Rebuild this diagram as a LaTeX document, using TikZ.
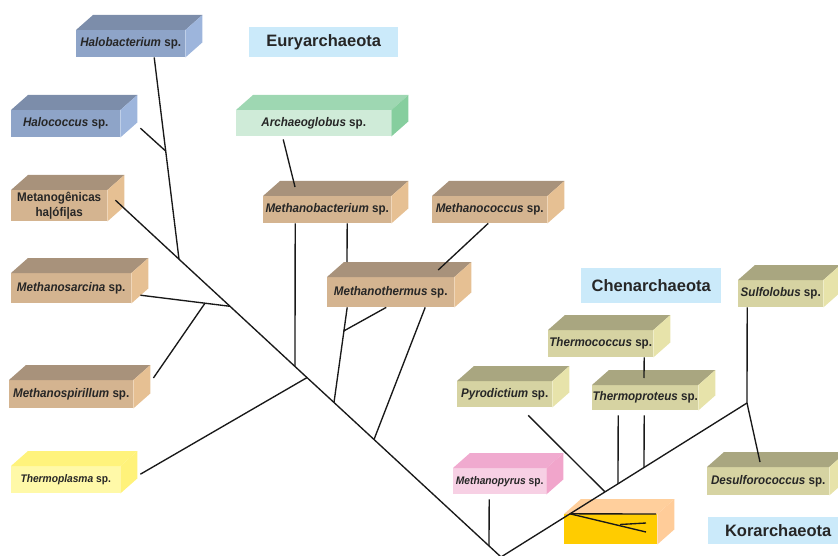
\documentclass[tikz,border=0pt]{standalone}
\usepackage{fontspec}
\setmainfont{Liberation Sans}
\newfontfamily\spfont{Liberation Sans}[FakeStretch=0.93]
\definecolor{bluef}{HTML}{8EA4C8}\definecolor{bluet}{HTML}{7C8DAA}\definecolor{bluer}{HTML}{9DB5DC}
\definecolor{tanf}{HTML}{D4B490}\definecolor{tant}{HTML}{A8927B}\definecolor{tanr}{HTML}{E6C093}
\definecolor{olvf}{HTML}{D6D3A2}\definecolor{olvt}{HTML}{A9A680}\definecolor{olvr}{HTML}{E7E3AA}
\definecolor{grnf}{HTML}{CFEBD8}\definecolor{grnt}{HTML}{9ED7B2}\definecolor{grnr}{HTML}{86CE9E}
\definecolor{pnkf}{HTML}{F7D0E4}\definecolor{pnkt}{HTML}{F0AACF}\definecolor{pnkr}{HTML}{F1A5CB}
\definecolor{yelf}{HTML}{FFF9A8}\definecolor{yelt}{HTML}{FFF37C}\definecolor{yelr}{HTML}{FFF27A}
\definecolor{goldf}{HTML}{FFCC00}\definecolor{goldt}{HTML}{FFCF9C}\definecolor{goldr}{HTML}{FFCC99}
\definecolor{grpblue}{HTML}{CBEAFA}
\newcommand{\spec}[1]{\textit{#1} sp.}
\newcommand{\solid}[3]{%
  \fill[#2] (#1.north west) -- ++(17,-15) -- ([shift={(17,-15)}]#1.north east) -- (#1.north east) -- cycle;
  \fill[#3] (#1.north east) -- ++(17,-15) -- ([shift={(17,-15)}]#1.south east) -- (#1.south east) -- cycle;}
\begin{document}
\begin{tikzpicture}[x=1pt, y=-1pt,
  box/.style={rectangle, anchor=north west, inner sep=0pt, align=center, text=black!85,
    font=\spfont\fontsize{12.5}{15}\selectfont\bfseries},
  small/.style={font=\spfont\fontsize{11}{13}\selectfont\bfseries},
  group/.style={anchor=north west, inner sep=0pt, fill=grpblue, text=black!85,
    font=\fontsize{16.5}{18}\selectfont\bfseries},
  branch/.style={draw=black!90, line width=1.35pt}]
\useasboundingbox (0,0) rectangle (838,556);

\node[group, minimum width=149pt, minimum height=30pt] (eury) at (249,27) {Euryarchaeota};
\node[group, minimum width=140pt, minimum height=35pt] (chen) at (581,268) {Chenarchaeota};
\node[group, minimum width=140pt, minimum height=27pt] (kora) at (708,517) {Korarchaeota};

\node[box, fill=bluef, minimum width=109pt, minimum height=27pt] (halobact) at (76,30) {\spec{Halobacterium}};
\node[box, fill=bluef, minimum width=109pt, minimum height=27pt] (halococ) at (11,110) {\spec{Halococcus}};
\node[box, fill=tanf, minimum width=96pt, minimum height=31pt] (metano) at (11,190) {Metanogênicas\\ha|ófi|as};
\node[box, fill=tanf, minimum width=120pt, minimum height=30pt] (sarc) at (11,273) {\spec{Methanosarcina}};
\node[box, fill=tanf, minimum width=124pt, minimum height=28pt] (spir) at (9,380) {\spec{Methanospirillum}};
\node[box, small, fill=yelf, minimum width=109pt, minimum height=27pt] (tpl) at (11,466) {\spec{Thermoplasma}};
\node[box, fill=grnf, minimum width=155pt, minimum height=26pt] (arch) at (236,110) {\spec{Archaeoglobus}};
\node[box, fill=tanf, minimum width=128pt, minimum height=27pt] (mbac) at (263,196) {\spec{Methanobacterium}};
\node[box, fill=tanf, minimum width=115pt, minimum height=27pt] (mcoc) at (432,196) {\spec{Methanococcus}};
\node[box, fill=tanf, minimum width=127pt, minimum height=30pt] (mth) at (327,277) {\spec{Methanothermus}};
\node[box, fill=olvf, minimum width=105pt, minimum height=27pt] (tcoc) at (548,330) {\spec{Thermococcus}};
\node[box, fill=olvf, minimum width=95pt, minimum height=26pt] (pyro) at (457,381) {\spec{Pyrodictium}};
\node[box, fill=olvf, minimum width=106pt, minimum height=25pt] (tprot) at (592,385) {\spec{Thermoproteus}};
\node[box, fill=olvf, minimum width=85pt, minimum height=27pt] (sulf) at (738,280) {\spec{Sulfolobus}};
\node[box, fill=olvf, minimum width=122pt, minimum height=28pt] (desulf) at (707,467) {\spec{Desulforococcus}};
\node[box, small, fill=pnkf, minimum width=93pt, minimum height=26pt] (mpyr) at (453,468) {\spec{Methanopyrus}};
\node[box, fill=goldf, minimum width=93pt, minimum height=30pt] (korbox) at (564,514) {};

\solid{halobact}{bluet}{bluer}
\solid{halococ}{bluet}{bluer}
\solid{metano}{tant}{tanr}
\solid{sarc}{tant}{tanr}
\solid{spir}{tant}{tanr}
\solid{tpl}{yelt}{yelr}
\solid{arch}{grnt}{grnr}
\solid{mbac}{tant}{tanr}
\solid{mcoc}{tant}{tanr}
\solid{mth}{tant}{tanr}
\solid{tcoc}{olvt}{olvr}
\solid{pyro}{olvt}{olvr}
\solid{tprot}{olvt}{olvr}
\solid{sulf}{olvt}{olvr}
\solid{desulf}{olvt}{olvr}
\solid{mpyr}{pnkt}{pnkr}
\solid{korbox}{goldt}{goldr}

\coordinate (root) at (501,557);
\coordinate (jhalo) at (179,259.2);
\coordinate (jhc) at (165.6,151);
\coordinate (jsarc) at (230,306.3);
\coordinate (jspir) at (205,303.2);
\coordinate (jmbac) at (295,366.5);
\coordinate (jtpl) at (307,377.6);
\coordinate (jmth1) at (334,402.5);
\coordinate (jmsm) at (343.7,331);
\coordinate (jmth2) at (374,439.5);
\coordinate (jpyr) at (489,545.9);
\coordinate (jkor) at (570,513.8);
\coordinate (jk2) at (620,524.5);
\coordinate (jpyro) at (605,491.9);
\coordinate (jtp1) at (618,483.8);
\coordinate (jtp2) at (644,467.5);
\coordinate (jsulf) at (747,403);

\draw[branch] (root) -- (jpyr) -- (jmth2) -- (jmth1) -- (jtpl) -- (jmbac) -- (jsarc) -- (jhalo) -- ([shift={(8,-5.5)}]metano.east);
\draw[branch] (root) -- (jkor) -- (jpyro) -- (jtp1) -- (jtp2) -- (jsulf);

\draw[branch] ([shift={(23.5,0)}]halobact.south) -- (jhalo);
\draw[branch] ([shift={(20,4.5)}]halococ.east) -- (jhc);
\draw[branch] ([shift={(9,7)}]sarc.east) -- (jsarc);
\draw[branch] ([shift={(20,-2)}]spir.north east) -- (jspir);
\draw[branch] ([shift={(20,-5.5)}]tpl.east) -- (jtpl);
\draw[branch] ([shift={(-30.5,3)}]arch.south) -- ([shift={(32,-9)}]mbac.north west);
\draw[branch] ([shift={(-32,0)}]mbac.south) -- (jmbac);
\draw[branch] ([shift={(20,0)}]mbac.south) -- ([shift={(20,-15)}]mth.north west);
\draw[branch] ([shift={(-1.5,0)}]mcoc.south) -- ([shift={(47.5,-7)}]mth.north);
\draw[branch] ([shift={(-43.5,0)}]mth.south) -- (jmth1);
\draw[branch] ([shift={(-4.5,0)}]mth.south) -- (jmsm);
\draw[branch] ([shift={(34.5,0)}]mth.south) -- (jmth2);
\draw[branch] ([shift={(-10.5,5)}]mpyr.south) -- (jpyr);
\draw[branch] ([shift={(23.5,8)}]pyro.south) -- (jpyro);
\draw[branch] ([shift={(-27,5)}]tprot.south) -- (jtp1);
\draw[branch] ([shift={(-1,5)}]tprot.south) -- (jtp2);
\draw[branch] ([shift={(43.5,0)}]tcoc.south) -- ([shift={(52,-7)}]tprot.north west);
\draw[branch] ([shift={(-33.5,0)}]sulf.south) -- (jsulf);
\draw[branch] (jsulf) -- ([shift={(53,-5)}]desulf.north west);
\draw[branch] (jkor) -- ([shift={(92,0)}]korbox.north west);
\draw[branch] (jkor) -- ([shift={(82,18)}]korbox.north west);
\draw[branch] (jk2) -- ([shift={(82,9)}]korbox.north west);
\end{tikzpicture}
\end{document}
